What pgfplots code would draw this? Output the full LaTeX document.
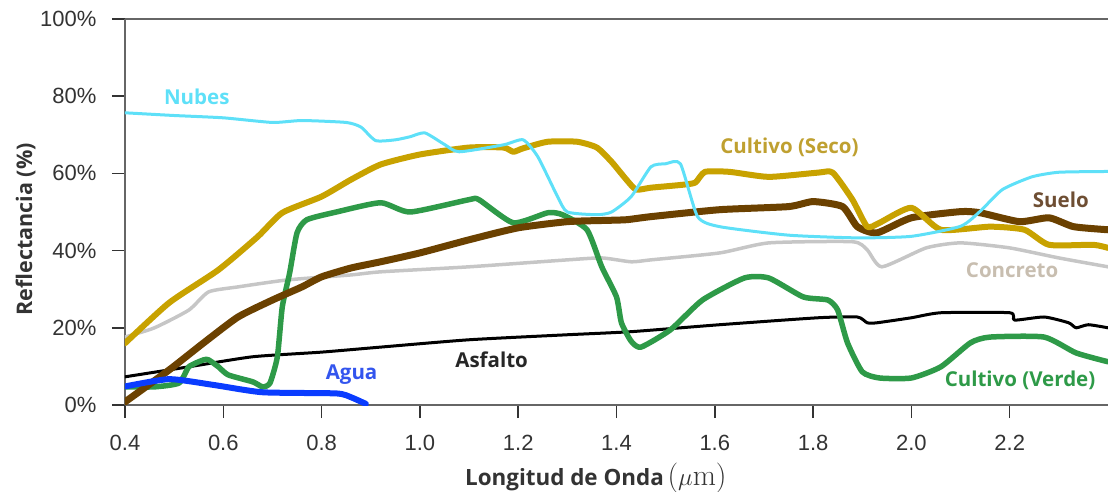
\documentclass[border=0pt]{standalone}
\usepackage{pgfplots}
\pgfplotsset{compat=1.18}
\usepackage{fontspec}
\newfontfamily\tickfont{Liberation Sans}
\newfontfamily\labfont{Open Sans}[FontFace={b}{n}{Font=Open Sans SemiBold}]
\definecolor{nubes}{HTML}{5EE0F8}
\definecolor{seco}{HTML}{C8A200}
\definecolor{secolab}{HTML}{BFA030}
\definecolor{suelo}{HTML}{6B4100}
\definecolor{suelolab}{HTML}{6E4E33}
\definecolor{concreto}{HTML}{C6C6C6}
\definecolor{concretolab}{HTML}{C8BEB0}
\definecolor{verde}{HTML}{2E9A48}
\definecolor{agua}{HTML}{0A3CFF}
\definecolor{agualab}{HTML}{3355EE}
\definecolor{axisgray}{HTML}{666666}
\definecolor{tickgray}{HTML}{333333}
\begin{document}
\begin{tikzpicture}
\begin{axis}[
  scale only axis, width=983pt, height=386pt,
  xmin=0.4, xmax=2.4, ymin=0, ymax=100,
  axis x line*=bottom, axis y line*=left,
  axis line style={draw=axisgray, line width=1.2pt},
  xtick={0.4,0.6,0.8,1.0,1.2,1.4,1.6,1.8,2.0,2.2},
  xticklabels={0.4,0.6,0.8,1.0,1.2,1.4,1.6,1.8,2.0,2.2},
  ytick={0,20,40,60,80,100},
  yticklabels={0\%,20\%,40\%,60\%,80\%,100\%},
  tick align=outside, major tick length=13pt,
  tick style={draw=tickgray, line width=1.5pt},
  tick label style={font=\tickfont\fontsize{22}{25}\selectfont, text=tickgray},
  x tick label style={yshift=-14pt},
  y tick label style={xshift=-12pt},
  xlabel={Longitud de Onda\,{\rmfamily\mdseries\fontsize{30}{32}\selectfont($\mu$m)}},
  ylabel={Reflectancia (\%)},
  label style={font=\labfont\bfseries\fontsize{21.5}{24}\selectfont, text=tickgray},
  xlabel style={at={(axis description cs:0.479,-0.2098)}, anchor=base, font=\labfont\bfseries\fontsize{22.4}{25}\selectfont},
  ylabel style={at={(axis description cs:-0.0946,0.455)}, anchor=base},
  every axis plot/.append style={line join=round, line cap=round, no markers, smooth, tension=0.35},
  after end axis/.code={\draw[axisgray, line width=1.2pt] (rel axis cs:0,1) -- (rel axis cs:1,1);},
]
% Concreto
\addplot[concreto, line width=3.5pt] coordinates {(0.40,17.6)(0.46,20)(0.53,24.6)(0.57,29.3)(0.63,30.6)(0.73,32.4)(0.86,33.7)(0.92,34.5)(1.10,35.8)(1.30,37.6)(1.37,38.1)(1.43,37.1)(1.47,37.6)(1.61,39.4)(1.71,42)(1.88,42.3)(1.91,40.2)(1.94,35.8)(2.03,40.7)(2.10,42)(2.20,40.7)(2.30,38.1)(2.40,35.8)};
% Asfalto
\addplot[black, line width=3pt] coordinates {(0.40,7.3)(0.53,9.9)(0.66,12.5)(0.80,13.7)(0.92,15)(1.10,16.9)(1.30,18.2)(1.43,19)(1.61,20.8)(1.81,22.6)(1.89,22.8)(1.91,21.3)(1.93,21.3)(2.00,22.6)(2.06,23.9)(2.20,23.9)(2.21,22)(2.27,22.8)(2.32,21.3)(2.335,20)(2.36,20.8)(2.40,20)};
% Cultivo verde
\addplot[verde, line width=5.5pt] coordinates {(0.40,4.7)(0.46,4.7)(0.51,5.7)(0.53,9.9)(0.56,11.7)(0.57,11.7)(0.59,9.9)(0.61,7.8)(0.66,6)(0.68,4.7)(0.695,5.7)(0.71,12.5)(0.72,25.4)(0.735,34.2)(0.75,44.6)(0.77,48)(0.83,50)(0.92,52.4)(0.98,50)(1.10,53.2)(1.12,53.2)(1.19,47.2)(1.26,49.8)(1.29,49.3)(1.34,45.4)(1.37,35.8)(1.40,28)(1.41,21.3)(1.43,16.5)(1.45,15)(1.51,19.5)(1.575,27.2)(1.66,32.9)(1.71,32.9)(1.78,28)(1.83,27.2)(1.85,24.6)(1.87,16.1)(1.90,8.6)(1.935,7)(2.00,7)(2.06,9.9)(2.12,16.1)(2.16,17.6)(2.27,17.6)(2.335,13.5)(2.40,11.2)};
% Suelo
\addplot[suelo, line width=7pt] coordinates {(0.40,0.8)(0.49,9.1)(0.56,16.1)(0.63,22.8)(0.70,27.2)(0.76,30.6)(0.80,33.2)(0.86,35.5)(0.92,37.1)(1.00,39.4)(1.10,42.8)(1.20,45.9)(1.30,47.5)(1.37,47.8)(1.42,48.0)(1.47,48.8)(1.61,50.6)(1.75,51.4)(1.80,52.7)(1.86,51.4)(1.89,46.2)(1.93,44.6)(2.00,48.5)(2.10,50.1)(2.14,49.8)(2.22,47.5)(2.28,48.5)(2.33,46.2)(2.40,45.4)};
% Cultivo seco
\addplot[seco, line width=6pt] coordinates {(0.40,16)(0.49,26.5)(0.59,35)(0.67,43.6)(0.72,49.8)(0.80,54)(0.86,58.4)(0.92,62.3)(1.00,64.9)(1.10,66.7)(1.17,66.7)(1.19,65.6)(1.21,66.5)(1.26,68.2)(1.32,68.2)(1.36,66.7)(1.39,63)(1.42,58.4)(1.44,55.8)(1.47,56.3)(1.53,57)(1.56,57.6)(1.58,60.4)(1.63,60.4)(1.71,59.1)(1.81,60.2)(1.84,60.2)(1.88,53.2)(1.91,46.2)(1.935,47.2)(2.0,51.1)(2.06,45.4)(2.16,46.2)(2.23,45.4)(2.28,41.5)(2.37,41.5)(2.40,40.7)};
% Nubes
\addplot[nubes, line width=3pt] coordinates {(0.40,75.7)(0.50,75.0)(0.60,74.4)(0.70,73.2)(0.76,73.7)(0.85,73.2)(0.88,72.0)(0.91,68.5)(0.95,68.7)(0.98,69.5)(1.01,70.5)(1.05,67.5)(1.08,65.6)(1.17,67.4)(1.21,68.7)(1.24,64.3)(1.28,54.0)(1.30,50.0)(1.36,49.3)(1.39,50.0)(1.43,54.0)(1.47,61.7)(1.50,62.5)(1.53,62.5)(1.565,48.8)(1.61,46.2)(1.75,44.0)(1.89,43.3)(2.00,43.7)(2.10,46.3)(2.14,50.2)(2.185,55.8)(2.245,59.1)(2.30,60.3)(2.40,60.5)};
% Agua
\addplot[agua, line width=6pt] coordinates {(0.40,4.8)(0.49,6.7)(0.58,5.2)(0.68,3.3)(0.83,3.0)(0.86,2.0)(0.89,0.3)};
% Labels
\begin{scope}[every node/.style={font=\labfont\bfseries\fontsize{20.5}{23}\selectfont, anchor=center}]
\node[text=nubes] at (axis cs:0.546,79.9) {Nubes};
\node[text=secolab] at (axis cs:1.752,66.7) {Cultivo (Seco)};
\node[text=suelolab] at (axis cs:2.304,53.2) {Suelo};
\node[text=concretolab] at (axis cs:2.205,35) {Concreto};
\node[text=verde] at (axis cs:2.221,6.5) {Cultivo (Verde)};
\node[text=black!85] at (axis cs:1.146,11.7) {Asfalto};
\node[text=agualab] at (axis cs:0.861,7.8) {Agua};
\end{scope}
\end{axis}
\pgfresetboundingbox
\path[use as bounding box] (-125pt,-86pt) rectangle (983pt,405pt);
\end{tikzpicture}
\end{document}
